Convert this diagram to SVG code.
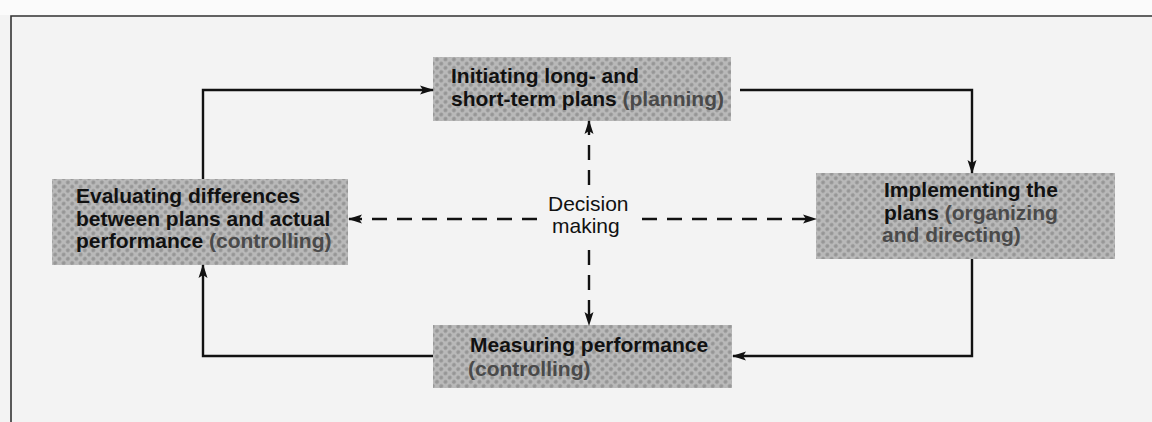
<svg xmlns="http://www.w3.org/2000/svg" width="1152" height="422" viewBox="0 0 1152 422">
  <defs>
    <!-- halftone screen used for the shaded boxes -->
    <pattern id="screen" width="6" height="6" patternUnits="userSpaceOnUse" patternTransform="rotate(45)">
      <rect width="6" height="6" fill="#b9b9b9"/>
      <circle cx="3" cy="3" r="1.9" fill="#959595"/>
    </pattern>
    <marker id="arrow" markerUnits="userSpaceOnUse" markerWidth="14" markerHeight="10" refX="13" refY="5" orient="auto">
      <path d="M0,0.5 L14,5 L0,9.5 L3,5 Z" fill="#111"/>
    </marker>
  </defs>
  <style>
    .box { fill: url(#screen); }
    .t { font-family: "Liberation Sans", Arial, Helvetica, sans-serif; font-size: 21px; font-weight: bold; fill: #111; }
    .g { fill: #4a4a4a; }
    .label { font-family: "Liberation Sans", Arial, Helvetica, sans-serif; font-size: 21px; fill: #111; }
    .flow { fill: none; stroke: #111; stroke-width: 2.4; marker-end: url(#arrow); }
    .dash { fill: none; stroke: #111; stroke-width: 2.4; stroke-dasharray: 15 10; marker-end: url(#arrow); }
    .frame { fill: none; stroke: #333; stroke-width: 1.6; }
  </style>

  <!-- paper -->
  <rect width="1152" height="422" fill="#f3f3f3"/>
  <rect width="1152" height="15" fill="#fbfbfb"/>
  <path class="frame" d="M11,422 V16 H1152"/>

  <g id="planning">
    <rect class="box" x="433" y="57" width="298" height="64"/>
    <text class="t" x="451" y="83">Initiating long- and</text>
    <text class="t" x="451" y="106">short-term plans <tspan class="g">(planning)</tspan></text>
  </g>

  <g id="implementing">
    <rect class="box" x="816" y="173" width="299" height="86"/>
    <text class="t" x="884" y="197">Implementing the</text>
    <text class="t" x="884" y="219.5">plans <tspan class="g">(organizing</tspan></text>
    <text class="t g" x="882" y="242">and directing)</text>
  </g>

  <g id="measuring">
    <rect class="box" x="433" y="325" width="299" height="63"/>
    <text class="t" x="470" y="352">Measuring performance</text>
    <text class="t g" x="468" y="376">(controlling)</text>
  </g>

  <g id="evaluating">
    <rect class="box" x="52" y="179" width="296" height="86"/>
    <text class="t" x="76" y="203">Evaluating differences</text>
    <text class="t" x="76" y="225.5">between plans and actual</text>
    <text class="t" x="76" y="248">performance <tspan class="g">(controlling)</tspan></text>
  </g>

  <g id="decision">
    <text class="label" x="548" y="211">Decision</text>
    <text class="label" x="552" y="233">making</text>
  </g>

  <g id="connectors">
    <path class="flow" d="M740,90 H972 V173"/>
    <path class="flow" d="M972,259 V356 H733"/>
    <path class="flow" d="M433,356 H203 V265"/>
    <path class="flow" d="M203,179 V90 H433"/>
    <path class="dash" d="M537,219 H349"/>
    <path class="dash" d="M642,219 H816"/>
    <path class="dash" d="M589,185 V121"/>
    <path class="dash" d="M589,250 V325"/>
  </g>
</svg>
